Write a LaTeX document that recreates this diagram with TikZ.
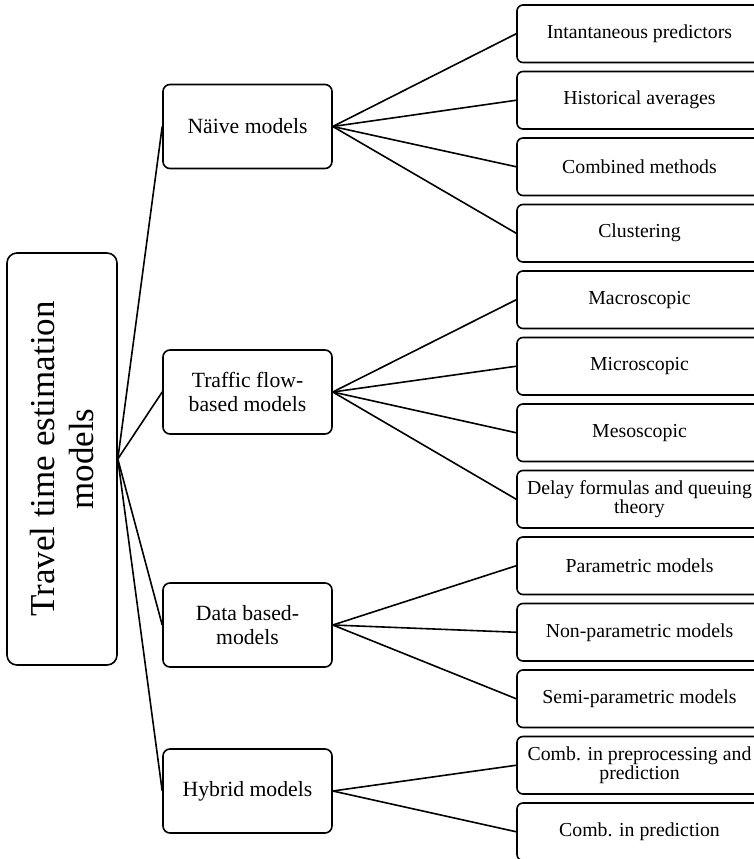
\documentclass[tikz,border=0pt]{standalone}
\usepackage{fontspec}
\setmainfont{Liberation Serif}
\begin{document}
\begin{tikzpicture}[x=1pt,y=-1pt,
  box/.style={draw, line width=1.6pt, rounded corners=7pt, align=center, inner sep=0pt},
  rootbox/.style={box, rounded corners=10pt, rotate=90, minimum width=412pt, minimum height=110pt,
    font=\fontsize{35}{39}\selectfont},
  midbox/.style={box, minimum width=169pt, minimum height=84pt, font=\fontsize{21.7}{24}\selectfont},
  leafbox/.style={box, rounded corners=6pt, minimum width=245pt, minimum height=57.5pt,
    font=\fontsize{19.8}{19.5}\selectfont},
  link/.style={line width=1.6pt}]
\useasboundingbox (0,0) rectangle (754,859);

% root
\node[rootbox] (root) at (62,459) {Travel time estimation\\models};

% model families
\node[midbox] (naive)   at (247.5,126.5) {Näive models};
\node[midbox] (traffic) at (247.5,392)   {Traffic flow-\\based models};
\node[midbox] (data)    at (247.5,625)   {Data based-\\models};
\node[midbox] (hybrid)  at (247.5,791)   {Hybrid models};

% individual approaches
\node[leafbox] (l1)  at (639.5,33.75)  {Intantaneous predictors};
\node[leafbox] (l2)  at (639.5,100.25) {Historical averages};
\node[leafbox] (l3)  at (639.5,166.75) {Combined methods};
\node[leafbox] (l4)  at (639.5,233.25) {Clustering};
\node[leafbox] (l5)  at (639.5,299.75) {Macroscopic};
\node[leafbox] (l6)  at (639.5,366.25) {Microscopic};
\node[leafbox] (l7)  at (639.5,432.75) {Mesoscopic};
\node[leafbox] (l8)  at (639.5,499.25) {Delay formulas and queuing\\theory};
\node[leafbox] (l9)  at (639.5,565.75) {Parametric models};
\node[leafbox] (l10) at (639.5,632.25) {Non-parametric models};
\node[leafbox] (l11) at (639.5,698.75) {Semi-parametric models};
\node[leafbox] (l12) at (639.5,765.25) {Comb. in preprocessing and\\prediction};
\node[leafbox] (l13) at (639.5,831.75) {Comb. in prediction};

% connectors from the root
\foreach \m in {naive,traffic,data,hybrid}
  \draw[link] (root.south) -- (\m.west);

% connectors to the approaches
\foreach \l in {l1,l2,l3,l4}
  \draw[link] (naive.east) -- (\l.west);
\foreach \l in {l5,l6,l7,l8}
  \draw[link] (traffic.east) -- (\l.west);
\foreach \l in {l9,l10,l11}
  \draw[link] (data.east) -- (\l.west);
\foreach \l in {l12,l13}
  \draw[link] (hybrid.east) -- (\l.west);
\end{tikzpicture}
\end{document}
